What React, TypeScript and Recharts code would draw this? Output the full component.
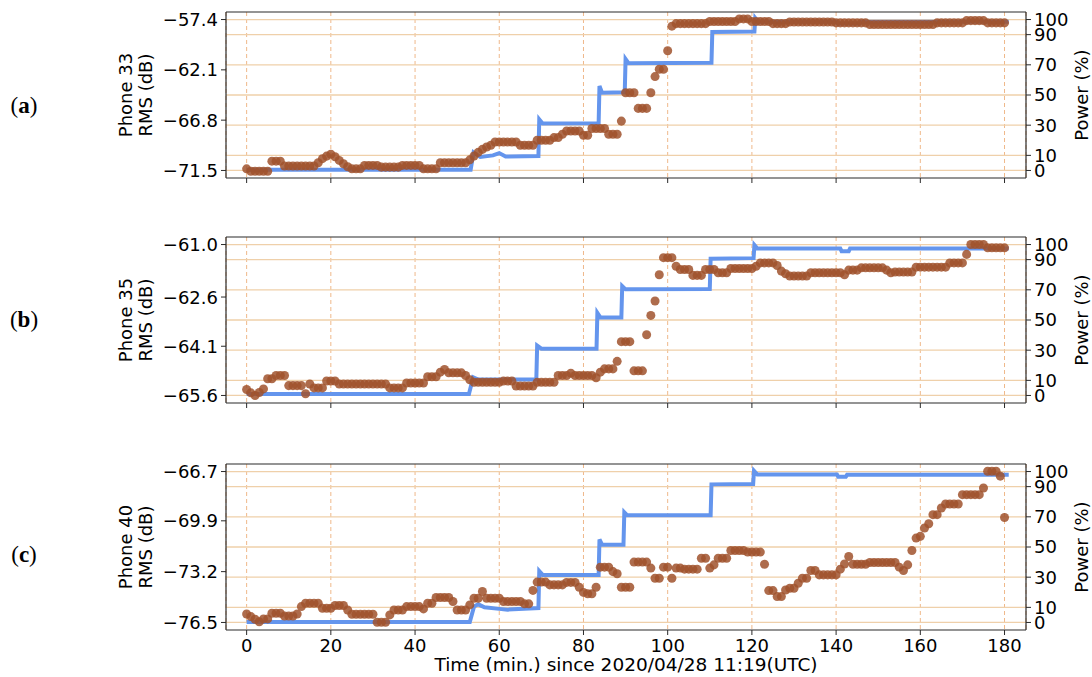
import React from "react";
import { ComposedChart, Line, Scatter, XAxis, YAxis, CartesianGrid, ReferenceLine } from "recharts";

// one RMS sample per minute, 0..180
const rmsA = [
  -71.35, -71.57, -71.57, -71.57, -71.57, -71.57, -70.63, -70.63, -70.63, -71.09,
  -71.09, -71.09, -71.09, -71.09, -71.09, -71.09, -71.09, -70.78, -70.4, -70.16,
  -69.99, -70.22, -70.56, -70.87, -71.15, -71.35, -71.35, -71.35, -71.03, -71.03,
  -71.03, -71.03, -71.19, -71.19, -71.19, -71.19, -71.19, -71.03, -71.03, -71.03,
  -71.03, -71.03, -71.35, -71.35, -71.35, -71.35, -70.78, -70.78, -70.78, -70.78,
  -70.78, -70.78, -70.78, -70.51, -70.15, -69.81, -69.53, -69.31, -69.15, -68.84,
  -68.84, -68.84, -68.84, -68.84, -68.84, -69.15, -69.15, -69.15, -69.15, -68.68,
  -68.68, -68.68, -68.68, -68.43, -68.43, -68.12, -67.81, -67.81, -67.81, -67.81,
  -68.21, -68.21, -67.58, -67.58, -67.58, -67.58, -68.12, -68.12, -68.12, -66.89,
  -64.24, -64.24, -64.24, -65.7, -65.7, -65.7, -64.24, -62.73, -62.04, -62.04,
  -60.32, -58.02, -57.78, -57.78, -57.78, -57.78, -57.78, -57.78, -57.78, -57.78,
  -57.58, -57.58, -57.58, -57.58, -57.58, -57.58, -57.58, -57.34, -57.34, -57.34,
  -57.58, -57.58, -57.58, -57.58, -57.58, -57.78, -57.78, -57.78, -57.78, -57.63,
  -57.63, -57.63, -57.63, -57.63, -57.63, -57.63, -57.63, -57.63, -57.63, -57.63,
  -57.71, -57.71, -57.71, -57.71, -57.71, -57.71, -57.71, -57.71, -57.86, -57.86,
  -57.86, -57.86, -57.86, -57.86, -57.86, -57.86, -57.86, -57.86, -57.86, -57.86,
  -57.86, -57.86, -57.86, -57.86, -57.71, -57.71, -57.71, -57.71, -57.71, -57.71,
  -57.71, -57.5, -57.5, -57.5, -57.5, -57.5, -57.71, -57.71, -57.71, -57.71,
  -57.71,
];

const rmsB = [
  -65.42, -65.52, -65.6, -65.51, -65.4, -65.09, -65.09, -64.99, -64.99, -64.99,
  -65.3, -65.3, -65.3, -65.3, -65.55, -65.25, -65.37, -65.37, -65.37, -65.16,
  -65.16, -65.16, -65.25, -65.25, -65.25, -65.25, -65.25, -65.25, -65.25, -65.25,
  -65.25, -65.25, -65.25, -65.25, -65.37, -65.37, -65.37, -65.37, -65.22, -65.22,
  -65.22, -65.22, -65.22, -65.03, -65.03, -65.03, -64.89, -64.81, -64.91, -64.91,
  -64.91, -64.91, -64.99, -65.12, -65.2, -65.2, -65.2, -65.2, -65.2, -65.2,
  -65.2, -65.16, -65.16, -65.16, -65.31, -65.31, -65.31, -65.31, -65.31, -65.2,
  -65.2, -65.2, -65.2, -65.2, -64.99, -64.99, -64.99, -64.92, -64.99, -64.99,
  -64.99, -64.99, -64.99, -65.06, -64.89, -64.79, -64.79, -64.79, -64.56, -63.96,
  -63.96, -63.96, -64.85, -64.85, -64.85, -63.75, -63.16, -62.72, -61.92, -61.4,
  -61.4, -61.4, -61.66, -61.76, -61.76, -61.76, -61.94, -61.94, -61.94, -61.76,
  -61.76, -61.76, -61.86, -61.86, -61.86, -61.73, -61.73, -61.73, -61.73, -61.73,
  -61.73, -61.66, -61.56, -61.56, -61.56, -61.56, -61.64, -61.81, -61.89, -61.96,
  -61.96, -61.96, -61.96, -61.96, -61.86, -61.86, -61.86, -61.86, -61.86, -61.86,
  -61.86, -61.86, -61.92, -61.78, -61.78, -61.78, -61.71, -61.71, -61.71, -61.71,
  -61.71, -61.71, -61.78, -61.86, -61.84, -61.84, -61.84, -61.84, -61.84, -61.69,
  -61.69, -61.69, -61.69, -61.69, -61.69, -61.69, -61.69, -61.56, -61.56, -61.56,
  -61.56, -61.3, -61.0, -61.0, -61.0, -61.0, -61.1, -61.1, -61.1, -61.1,
  -61.1,
];

const rmsC = [
  -75.95, -76.12, -76.29, -76.45, -76.27, -76.27, -75.9, -75.9, -75.9, -76.08,
  -76.08, -76.08, -75.95, -75.47, -75.25, -75.25, -75.25, -75.25, -75.58, -75.58,
  -75.58, -75.4, -75.4, -75.4, -75.69, -75.97, -75.97, -75.97, -75.97, -75.97,
  -75.97, -76.49, -76.49, -76.49, -76.01, -75.69, -75.69, -75.69, -75.47, -75.47,
  -75.47, -75.47, -75.62, -75.25, -75.25, -74.88, -74.88, -74.88, -74.88, -75.14,
  -75.69, -75.69, -75.69, -75.36, -74.93, -74.93, -74.49, -74.93, -74.93, -74.93,
  -74.93, -75.14, -75.14, -75.14, -75.14, -75.14, -75.29, -75.29, -74.42, -73.88,
  -73.88, -73.88, -74.06, -74.06, -74.06, -74.06, -73.9, -73.9, -73.9, -74.21,
  -74.55, -74.64, -74.64, -74.21, -72.91, -72.91, -72.91, -73.2, -73.34, -74.21,
  -74.21, -74.21, -72.58, -72.58, -72.58, -72.58, -72.97, -73.63, -73.63, -72.91,
  -72.91, -73.63, -72.97, -72.97, -73.04, -73.04, -73.04, -73.04, -72.33, -72.33,
  -72.97, -72.76, -72.33, -72.33, -72.33, -71.83, -71.83, -71.83, -71.83, -71.93,
  -71.93, -71.93, -71.93, -72.72, -74.43, -74.43, -74.82, -74.82, -74.39, -74.28,
  -74.28, -73.95, -73.63, -73.63, -73.13, -73.13, -73.41, -73.41, -73.41, -73.41,
  -73.41, -73.04, -72.7, -72.22, -72.72, -72.72, -72.72, -72.72, -72.61, -72.61,
  -72.61, -72.61, -72.61, -72.61, -72.61, -72.91, -73.13, -72.76, -71.83, -71.02,
  -70.91, -70.37, -70.09, -69.5, -69.5, -69.07, -68.81, -68.81, -68.81, -68.81,
  -68.2, -68.2, -68.2, -68.2, -68.2, -67.77, -66.68, -66.68, -66.68, -67.0,
  -69.68,
];

const minutes = rmsA.map((_, i) => i);

// power (%) step traces: time (min) / value pairs
const powerTimeA = [0, 53.2, 53.9, 55.5, 58.5, 60, 61.5, 69.3, 69.5, 70.3, 83.6, 83.8, 84.4, 89.8, 90, 90.7, 110.4, 110.6, 120.6, 120.8, 121.5, 140, 140.4, 145.6, 146, 181];
const powerA = [0.5, 0.5, 12, 9, 10, 11.5, 9.3, 9.5, 33.8, 31.1, 31.3, 56, 51.5, 51.8, 73.8, 71.1, 71.3, 91.8, 92, 101, 98.6, 98.6, 97.3, 97.3, 98.6, 98.6];

const powerTimeB = [0, 52.8, 53.8, 55, 68.8, 69, 70, 83.1, 83.3, 84, 89, 89.2, 90, 110, 110.2, 120.4, 120.6, 121.3, 141, 141.3, 143, 143.3, 181];
const powerB = [1, 1, 12, 10.5, 10.5, 33, 31, 31, 54.7, 51.7, 51.7, 72.5, 70.3, 70.5, 90.6, 91, 99.6, 97.3, 97.3, 95.6, 95.6, 97.3, 97.3];

const powerTimeC = [0, 53, 54, 55, 56.5, 60, 62, 69.3, 69.5, 70.3, 83.6, 83.8, 84.4, 89.5, 89.7, 90.4, 110.2, 110.4, 120.3, 120.5, 121.3, 140.2, 140.5, 142.3, 142.6, 181];
const powerC = [0.3, 0.3, 10.5, 12, 10, 9, 8.5, 9.5, 34, 31.5, 31.5, 55, 51.5, 51.5, 73, 71, 71, 91.5, 91.8, 100.5, 98, 98, 96.5, 96.5, 97.8, 97.8];

const rmsTicksA = [-71.5, -66.8, -62.1, -57.4];
const rmsTicksB = [-65.6, -64.1, -62.6, -61.0];
const rmsTicksC = [-76.5, -73.2, -69.9, -66.7];
const powerTicks = [0, 10, 30, 50, 70, 90, 100];
const timeTicks = [0, 20, 40, 60, 80, 100, 120, 140, 160, 180];

const FONT = "'DejaVu Sans', sans-serif";
const FS = 18;
const BLUE = "#6495ED";
const BROWN = "#A0522D";
const HGRID = "#efd0aa";
const VGRID = "#efb88a";
const FRAME = "#2a2a2a";

const fmtDb = (v: number) => v.toFixed(1).replace("-", "\u2212");

const LeftTick = (props: any) => (
  <text x={props.x} y={props.y} dy="0.36em" textAnchor="end" fontSize={FS} fontFamily={FONT} fill="#000">
    {fmtDb(props.payload.value)}
  </text>
);

const RightTick = (props: any) => (
  <text x={props.x} y={props.y} dy="0.36em" textAnchor="start" fontSize={FS} fontFamily={FONT} fill="#000">
    {props.payload.value}
  </text>
);

const BottomTick = (props: any) => (
  <text x={props.x} y={props.y} dy="0.78em" textAnchor="middle" fontSize={FS} fontFamily={FONT} fill="#000">
    {props.payload.value}
  </text>
);

const NoLabel = () => <g />;

type PanelProps = {
  top: number;
  rms: number[];
  pT: number[];
  pV: number[];
  ticks: number[];
  phone: string;
  tag: string;
  tagY: number;
  showX: boolean;
};

const Panel = ({ top, rms, pT, pV, ticks, phone, tag, tagY, showX }: PanelProps) => {
  const lo = ticks[0];
  const hi = ticks[ticks.length - 1];
  const pad = (hi - lo) * 0.05;
  const dots = rms.map((v, i) => ({ t: minutes[i], v }));
  const trace = pT.map((t, i) => ({ t, p: pV[i] }));
  const height = showX ? 225 : 200;
  const mid = top + 12 + 83;
  return (
    <>
      <div style={{ position: "absolute", left: 0, top, width: 1092, height }}>
        <ComposedChart width={1092} height={height} margin={{ top: 12, right: 16, bottom: showX ? 17 : 2, left: 146 }}>
          <CartesianGrid horizontal={false} vertical stroke={VGRID} strokeDasharray="4 3" />
          {powerTicks.map((p) => (
            <ReferenceLine key={p} yAxisId="right" y={p} stroke={HGRID} strokeWidth={1.3} />
          ))}
          <XAxis
            type="number"
            dataKey="t"
            domain={[-4.9, 185.1]}
            ticks={timeTicks}
            interval={0}
            height={showX ? 30 : 20}
            tickSize={5}
            tickMargin={3}
            axisLine={{ stroke: FRAME, strokeWidth: 1.2 }}
            tickLine={{ stroke: FRAME }}
            tick={showX ? <BottomTick /> : <NoLabel />}
          />
          <YAxis
            yAxisId="left"
            orientation="left"
            type="number"
            domain={[lo - pad, hi + pad]}
            ticks={ticks}
            interval={0}
            width={80}
            tickSize={5}
            tickMargin={3}
            axisLine={{ stroke: FRAME, strokeWidth: 1.2 }}
            tickLine={{ stroke: FRAME }}
            tick={<LeftTick />}
          />
          <YAxis
            yAxisId="right"
            orientation="right"
            type="number"
            domain={[-5, 105]}
            ticks={powerTicks}
            interval={0}
            width={50}
            tickSize={5}
            tickMargin={3}
            axisLine={{ stroke: FRAME, strokeWidth: 1.2 }}
            tickLine={{ stroke: FRAME }}
            tick={<RightTick />}
          />
          <ReferenceLine yAxisId="right" y={105} stroke={FRAME} strokeWidth={1.2} />
          <Line
            yAxisId="right"
            data={trace}
            dataKey="p"
            type="linear"
            stroke={BLUE}
            strokeWidth={4}
            dot={false}
            activeDot={false}
            isAnimationActive={false}
          />
          <Scatter yAxisId="left" data={dots} dataKey="v" fill={BROWN} fillOpacity={0.85} isAnimationActive={false} />
        </ComposedChart>
      </div>
      <div
        style={{
          position: "absolute",
          left: 136,
          top: mid,
          transform: "translate(-50%, -50%) rotate(-90deg)",
          fontFamily: FONT,
          fontSize: FS,
          lineHeight: "20px",
          textAlign: "center",
          whiteSpace: "nowrap",
        }}
      >
        {phone}
        <br />
        RMS (dB)
      </div>
      <div
        style={{
          position: "absolute",
          left: 1081,
          top: mid,
          transform: "translate(-50%, -50%) rotate(-90deg)",
          fontFamily: FONT,
          fontSize: FS,
          whiteSpace: "nowrap",
        }}
      >
        Power (%)
      </div>
      <div
        style={{
          position: "absolute",
          left: 24,
          top: tagY,
          transform: "translate(-50%, -50%)",
          fontFamily: "'Liberation Serif', 'DejaVu Serif', serif",
          fontSize: 23,
          whiteSpace: "nowrap",
        }}
      >
        (<b>{tag}</b>)
      </div>
    </>
  );
};

export default function App() {
  return (
    <div style={{ position: "absolute", left: 0, top: 0, width: 1092, height: 677, background: "#fff", overflow: "hidden" }}>
      <Panel top={0} rms={rmsA} pT={powerTimeA} pV={powerA} ticks={rmsTicksA} phone="Phone 33" tag="a" tagY={106} showX={false} />
      <Panel top={225} rms={rmsB} pT={powerTimeB} pV={powerB} ticks={rmsTicksB} phone="Phone 35" tag="b" tagY={320} showX={false} />
      <Panel top={452} rms={rmsC} pT={powerTimeC} pV={powerC} ticks={rmsTicksC} phone="Phone 40" tag="c" tagY={555} showX={true} />
      <div
        style={{
          position: "absolute",
          left: 626,
          top: 664,
          transform: "translate(-50%, -50%)",
          fontFamily: FONT,
          fontSize: 18.5,
          whiteSpace: "nowrap",
        }}
      >
        Time (min.) since 2020/04/28 11:19(UTC)
      </div>
    </div>
  );
}
